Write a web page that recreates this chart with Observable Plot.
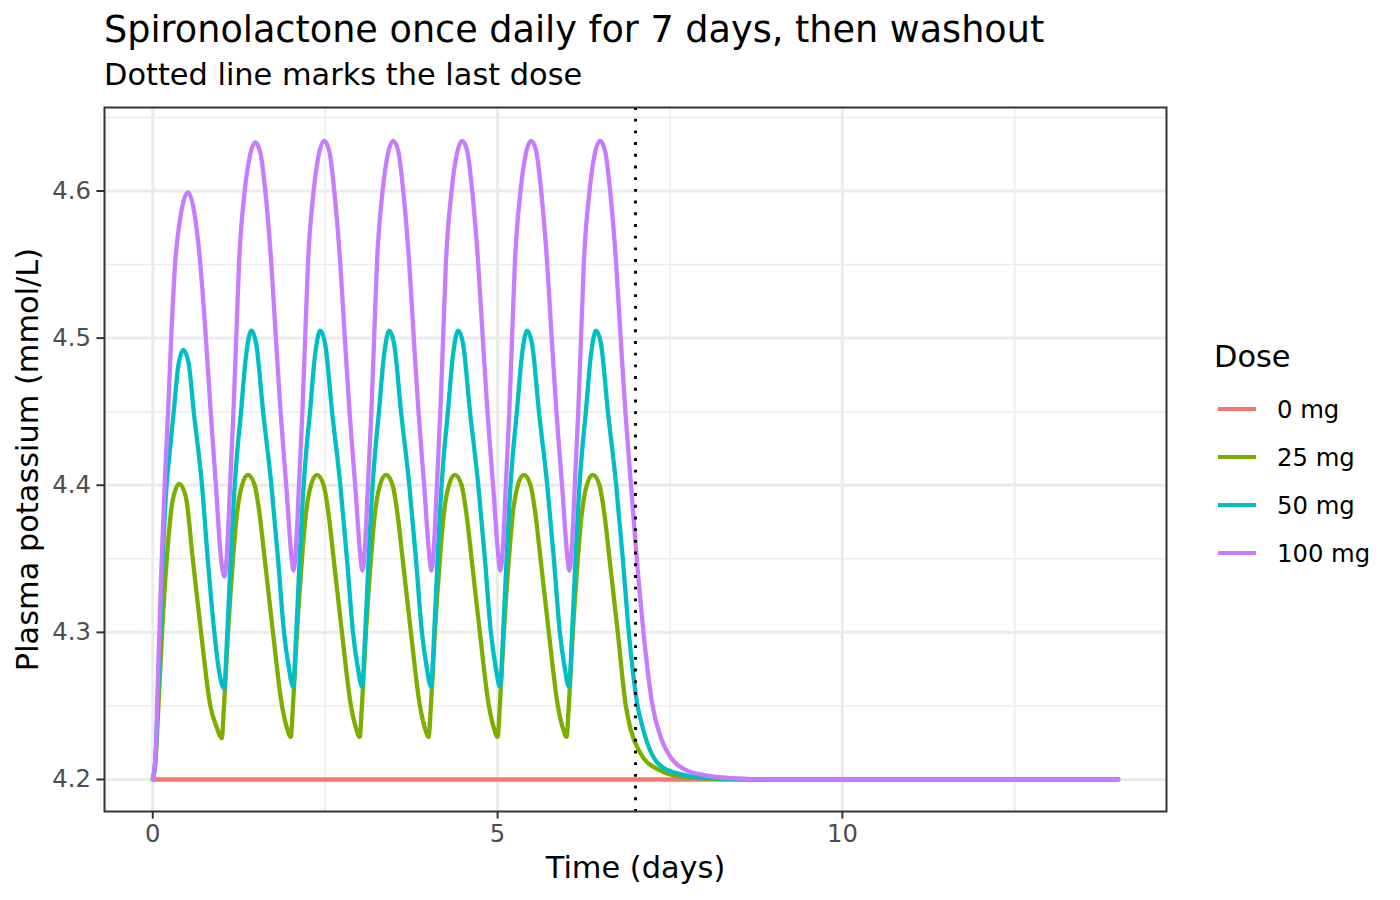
<!DOCTYPE html>
<html>
<head>
<meta charset="utf-8">
<script src="https://cdn.jsdelivr.net/npm/d3@7"></script>
<script src="https://cdn.jsdelivr.net/npm/@observablehq/plot@0.6"></script>
<style>
  html, body { margin: 0; padding: 0; background: #ffffff; }
  #wrap { position: relative; width: 1400px; height: 900px; font-family: "DejaVu Sans", sans-serif; }
  #wrap svg { position: absolute; left: 0; top: 0; }
</style>
</head>
<body>
<div id="wrap"></div>
<script>
// ---------- data ----------
const doseLabels = ["0 mg", "25 mg", "50 mg", "100 mg"];
const doseColors = ["#F8766D", "#7CAE00", "#00BFC4", "#C77CFF"];

const time0 = [0, 14];
const k0 = [4.2, 4.2];

const time25 = [0,0.04,0.082,0.135,0.203,0.29,0.386,0.48,0.58,0.7,0.835,0.93,1,
  1.033,1.091,1.164,1.215,1.294,1.381,1.478,1.55,1.623,1.743,1.874,1.94,2,
  2.033,2.091,2.164,2.215,2.294,2.381,2.478,2.55,2.623,2.743,2.874,2.94,3,
  3.033,3.091,3.164,3.215,3.294,3.381,3.478,3.55,3.623,3.743,3.874,3.94,4,
  4.033,4.091,4.164,4.215,4.294,4.381,4.478,4.55,4.623,4.743,4.874,4.94,5,
  5.033,5.091,5.164,5.215,5.294,5.381,5.478,5.55,5.623,5.743,5.874,5.94,6,
  6.033,6.091,6.164,6.215,6.294,6.381,6.478,6.55,6.623,6.743,6.86,6.93,7.07,7.32,7.7,8.2,8.8,14];
const k25 = [4.2,4.212,4.25,4.3,4.35,4.39,4.401,4.392,4.35,4.3,4.25,4.235,4.228,
  4.25,4.3,4.35,4.378,4.4,4.407,4.4,4.38,4.35,4.3,4.25,4.236,4.229,
  4.25,4.3,4.35,4.378,4.4,4.407,4.4,4.38,4.35,4.3,4.25,4.236,4.229,
  4.25,4.3,4.35,4.378,4.4,4.407,4.4,4.38,4.35,4.3,4.25,4.236,4.229,
  4.25,4.3,4.35,4.378,4.4,4.407,4.4,4.38,4.35,4.3,4.25,4.236,4.229,
  4.25,4.3,4.35,4.378,4.4,4.407,4.4,4.38,4.35,4.3,4.25,4.236,4.229,
  4.25,4.3,4.35,4.378,4.4,4.407,4.4,4.38,4.35,4.3,4.25,4.234,4.218,4.207,4.2017,4.2004,4.2,4.2];

const time50 = [0,0.04,0.07,0.11,0.145,0.2,0.24,0.304,0.37,0.444,0.52,0.594,0.714,0.797,0.893,0.96,1.035,
  1.081,1.13,1.188,1.22,1.28,1.35,1.429,1.5,1.6,1.72,1.816,1.903,1.97,2.035,
  2.081,2.13,2.188,2.22,2.28,2.35,2.429,2.5,2.6,2.72,2.816,2.903,2.97,3.035,
  3.081,3.13,3.188,3.22,3.28,3.35,3.429,3.5,3.6,3.72,3.816,3.903,3.97,4.035,
  4.081,4.13,4.188,4.22,4.28,4.35,4.429,4.5,4.6,4.72,4.816,4.903,4.97,5.035,
  5.081,5.13,5.188,5.22,5.28,5.35,5.429,5.5,5.6,5.72,5.816,5.903,5.97,6.035,
  6.081,6.13,6.188,6.22,6.28,6.35,6.429,6.5,6.6,6.72,6.816,6.903,6.96,7.03,7.1,7.22,7.46,7.9,8.4,9,14];
const k50 = [4.2,4.215,4.25,4.3,4.35,4.4,4.42,4.45,4.481,4.492,4.483,4.45,4.4,4.35,4.3,4.274,4.262,
  4.3,4.35,4.4,4.42,4.45,4.487,4.505,4.496,4.45,4.4,4.35,4.3,4.277,4.263,
  4.3,4.35,4.4,4.42,4.45,4.487,4.505,4.496,4.45,4.4,4.35,4.3,4.277,4.263,
  4.3,4.35,4.4,4.42,4.45,4.487,4.505,4.496,4.45,4.4,4.35,4.3,4.277,4.263,
  4.3,4.35,4.4,4.42,4.45,4.487,4.505,4.496,4.45,4.4,4.35,4.3,4.277,4.263,
  4.3,4.35,4.4,4.42,4.45,4.487,4.505,4.496,4.45,4.4,4.35,4.3,4.277,4.263,
  4.3,4.35,4.4,4.42,4.45,4.487,4.505,4.496,4.45,4.4,4.35,4.3,4.274,4.25,4.236,4.219,4.2065,4.2017,4.2004,4.2,4.2];

const time100 = [0,0.048,0.062,0.096,0.13,0.172,0.222,0.267,0.323,0.4,0.507,0.6,0.69,0.77,0.84,0.915,0.99,1.04,
  1.14,1.17,1.21,1.25,1.333,1.4,1.487,1.56,1.632,1.72,1.785,1.853,1.935,2.015,2.04,
  2.14,2.17,2.21,2.25,2.333,2.4,2.487,2.56,2.632,2.72,2.785,2.853,2.935,3.015,3.04,
  3.14,3.17,3.21,3.25,3.333,3.4,3.487,3.56,3.632,3.72,3.785,3.853,3.935,4.015,4.04,
  4.14,4.17,4.21,4.25,4.333,4.4,4.487,4.56,4.632,4.72,4.785,4.853,4.935,5.015,5.04,
  5.14,5.17,5.21,5.25,5.333,5.4,5.487,5.56,5.632,5.72,5.785,5.853,5.935,6.015,6.04,
  6.14,6.17,6.21,6.25,6.333,6.4,6.487,6.56,6.632,6.72,6.785,6.853,6.935,7.01,7.12,7.24,7.37,7.51,7.75,8,8.3,8.7,9.2,14];
const k100 = [4.2,4.222,4.25,4.3,4.35,4.4,4.45,4.5,4.55,4.582,4.599,4.586,4.55,4.5,4.45,4.4,4.35,4.338,
  4.42,4.45,4.5,4.55,4.6,4.622,4.633,4.626,4.6,4.55,4.5,4.45,4.4,4.35,4.342,
  4.42,4.45,4.5,4.55,4.6,4.623,4.634,4.627,4.6,4.55,4.5,4.45,4.4,4.35,4.342,
  4.42,4.45,4.5,4.55,4.6,4.623,4.634,4.627,4.6,4.55,4.5,4.45,4.4,4.35,4.342,
  4.42,4.45,4.5,4.55,4.6,4.623,4.634,4.627,4.6,4.55,4.5,4.45,4.4,4.35,4.342,
  4.42,4.45,4.5,4.55,4.6,4.623,4.634,4.627,4.6,4.55,4.5,4.45,4.4,4.35,4.342,
  4.42,4.45,4.5,4.55,4.6,4.623,4.634,4.627,4.6,4.55,4.5,4.45,4.4,4.355,4.298,4.252,4.228,4.215,4.206,4.203,4.2012,4.2003,4.2,4.2];

const lastDoseDay = [7];
const xMajorTicks = [0, 5, 10];
const xMinorGrid = [2.5, 7.5, 12.5];
const yMajorTicks = [4.2, 4.3, 4.4, 4.5, 4.6];
const yMinorGrid = [4.25, 4.35, 4.45, 4.55, 4.65];

const titleText = "Spironolactone once daily for 7 days, then washout";
const subtitleText = "Dotted line marks the last dose";
const xTitle = "Time (days)";
const yTitle = "Plasma potassium (mmol/L)";
const legendTitle = "Dose";

// ---------- build table ----------
const seriesTimes = [time0, time25, time50, time100];
const seriesValues = [k0, k25, k50, k100];
const rows = [];
doseLabels.forEach((dose, i) => {
  seriesTimes[i].forEach((t, j) => rows.push({dose, time: t, potassium: seriesValues[i][j]}));
});

const yMin = 4.2, yMax = 4.635, xMin = 0, xMax = 14;
const yPad = (yMax - yMin) * 0.05, xPad = (xMax - xMin) * 0.05;

const chart = Plot.plot({
  width: 1400,
  height: 900,
  marginLeft: 104,
  marginRight: 234,
  marginTop: 107,
  marginBottom: 89,
  style: {fontFamily: "DejaVu Sans", background: "transparent", overflow: "visible"},
  x: {domain: [xMin - xPad, xMax + xPad]},
  y: {domain: [yMin - yPad, yMax + yPad]},
  color: {domain: doseLabels, range: doseColors},
  marks: [
    Plot.ruleX(xMinorGrid, {stroke: "#EBEBEB", strokeWidth: 1.5}),
    Plot.ruleY(yMinorGrid, {stroke: "#EBEBEB", strokeWidth: 1.5}),
    Plot.ruleX(xMajorTicks, {stroke: "#EBEBEB", strokeWidth: 3}),
    Plot.ruleY(yMajorTicks, {stroke: "#EBEBEB", strokeWidth: 3}),
    Plot.line(rows, {x: "time", y: "potassium", z: "dose", stroke: "dose", strokeWidth: 4.3, curve: "monotone-x"}),
    Plot.ruleX(lastDoseDay, {stroke: "#000000", strokeWidth: 2.9, strokeDasharray: "2.9 8.8", strokeLinecap: "butt"}),
    Plot.frame({stroke: "#333333", strokeWidth: 2}),
    Plot.axisX(xMajorTicks, {tickSize: 7.6, tickPadding: 6, fontSize: 24.3, fill: "#4D4D4D", stroke: "#333333", strokeWidth: 2, label: null, tickFormat: d => String(d)}),
    Plot.axisY(yMajorTicks, {tickSize: 7.6, tickPadding: 6, fontSize: 24.3, fill: "#4D4D4D", stroke: "#333333", strokeWidth: 2, label: null, tickFormat: d => d.toFixed(1)}),
    Plot.text([xTitle], {frameAnchor: "bottom", dy: 57, fontSize: 30.4, fill: "#000000", lineAnchor: "middle", textAnchor: "middle"}),
    Plot.text([yTitle], {frameAnchor: "left", dx: -76, rotate: -90, fontSize: 30.4, fill: "#000000", lineAnchor: "middle", textAnchor: "middle"})
  ]
});
document.getElementById("wrap").appendChild(chart);

// ---------- title, subtitle, legend (text overlay) ----------
const overlay = d3.select("#wrap").append("svg")
  .attr("width", 1400).attr("height", 900)
  .style("pointer-events", "none")
  .style("font-family", "DejaVu Sans");

overlay.append("text").attr("x", 104).attr("y", 41.5)
  .attr("font-size", 36.6).attr("fill", "#000").text(titleText);
overlay.append("text").attr("x", 104).attr("y", 85)
  .attr("font-size", 30.4).attr("fill", "#000").text(subtitleText);

overlay.append("text").attr("x", 1214).attr("y", 366.7)
  .attr("font-size", 30.4).attr("fill", "#000").text(legendTitle);

const legendY0 = 409, legendStep = 48;
doseLabels.forEach((lab, i) => {
  const cy = legendY0 + i * legendStep;
  overlay.append("line").attr("x1", 1218).attr("x2", 1256).attr("y1", cy).attr("y2", cy)
    .attr("stroke", doseColors[i]).attr("stroke-width", 4);
  overlay.append("text").attr("x", 1277).attr("y", cy + 8.9)
    .attr("font-size", 24.3).attr("fill", "#000").text(lab);
});
</script>
</body>
</html>
